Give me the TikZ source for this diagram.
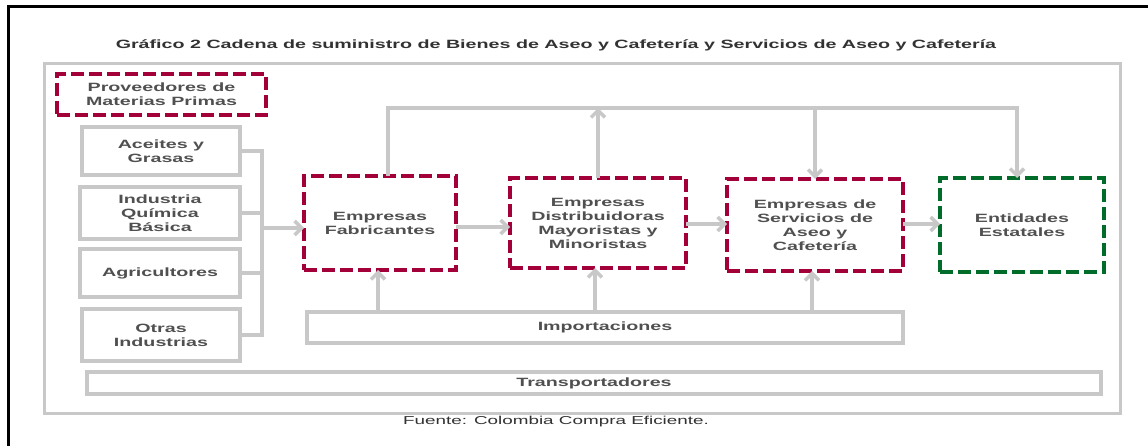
\documentclass[tikz,border=0pt]{standalone}
\usepackage{fontspec}
\setmainfont{Liberation Sans}[FakeStretch=1.64]
\usetikzlibrary{arrows.meta}
\definecolor{lgray}{RGB}{200,200,200}
\definecolor{crim}{RGB}{163,0,58}
\definecolor{dgreen}{RGB}{0,108,42}
\definecolor{txt}{RGB}{80,80,80}
\definecolor{ttl}{RGB}{50,50,50}
\tikzset{
  gl/.style={draw=lgray, line width=3.5pt},
  arr/.style={gl, -{Straight Barb[length=7pt,width=14pt]}},
  lab/.style={font=\bfseries\fontsize{12}{14}\selectfont, text=txt, align=center, inner sep=0pt, outer sep=0pt},
  graybox/.style={lab, draw=lgray, line width=3.5pt},
  redbox/.style={lab, draw=crim, line width=4pt, dash pattern=on 13pt off 5pt},
  greenbox/.style={lab, draw=dgreen, line width=4pt, dash pattern=on 13pt off 5pt},
}
\begin{document}
\begin{tikzpicture}[x=1pt,y=-1pt]
\useasboundingbox (0,0) rectangle (1148,446);
\fill[white] (0,0) rectangle (1148,446);
% black border
\draw[black, line width=3pt] (8,446) -- (8,7) -- (1148,7);
% title
\node[font=\bfseries\fontsize{12}{14}\selectfont, text=ttl] (title) at (556,45) {Gráfico 2 Cadena de suministro de Bienes de Aseo y Cafetería y Servicios de Aseo y Cafetería};
% outer frame
\node[draw=lgray, line width=3.5pt, minimum width=1076pt, minimum height=350pt, inner sep=0pt] (frame) at (582.5,238.5) {};
% left column
\node[redbox, minimum width=209pt, minimum height=41pt] (prov) at (161.5,94.5) {Proveedores de\\Materias Primas};
\node[graybox, minimum width=158pt, minimum height=48pt] (acei) at (161,151) {Aceites y\\Grasas};
\node[graybox, minimum width=160pt, minimum height=52pt] (ind) at (160,213) {Industria\\Química\\Básica};
\node[graybox, minimum width=160pt, minimum height=48pt] (agri) at (160,273) {Agricultores};
\node[graybox, minimum width=158pt, minimum height=52pt] (otras) at (161,335) {Otras\\Industrias};
% main chain
\node[redbox, minimum width=152pt, minimum height=94pt] (fab) at (380,223) {Empresas\\Fabricantes};
\node[redbox, minimum width=176pt, minimum height=90pt] (dist) at (598,223) {Empresas\\Distribuidoras\\Mayoristas y\\Minoristas};
\node[redbox, minimum width=176pt, minimum height=92pt] (serv) at (815,225) {Empresas de\\Servicios de\\Aseo y\\Cafetería};
\node[greenbox, minimum width=164pt, minimum height=94pt] (ent) at (1022,225) {Entidades\\Estatales};
% bottom bars
\node[graybox, minimum width=596pt, minimum height=31pt] (imp) at (605,327.5) {Importaciones};
\node[graybox, minimum width=1014pt, minimum height=22pt] (trans) at (594,383) {Transportadores};
% source
\node[font=\fontsize{11.5}{13}\selectfont, text=ttl] (src) at (556,422) {Fuente: Colombia Compra Eficiente.};
% bracket
\coordinate (bx) at (262,228);
\draw[gl] (acei.east) -- (acei.east -| bx) -- (otras.east -| bx) -- (otras.east);
\draw[gl] (ind.east) -- (ind.east -| bx);
\draw[gl] (agri.east) -- (agri.east -| bx);
\draw[arr] (bx) -- (bx -| fab.west);
% horizontal chain arrows
\draw[arr] ([yshift=-4pt]fab.east) -- ([yshift=-4pt]fab.east -| dist.west);
\draw[arr] ([yshift=-1pt]dist.east) -- ([yshift=-1pt]dist.east -| serv.west);
\draw[arr] ([yshift=1pt]serv.east) -- ([yshift=1pt]serv.east -| ent.west);
% top routing
\coordinate (tl) at (388,108);
\coordinate (tr) at (1017,108);
\draw[arr] (tl |- fab.north) -- (tl) -- (tr) -- (tr |- ent.north);
\draw[arr] (dist.north) -- (dist.north |- tl);
\draw[arr] (serv.north |- tl) -- (serv.north);
% importaciones arrows
\draw[arr] ([xshift=-2pt]fab.south |- imp.north) -- ([xshift=-2pt]fab.south);
\draw[arr] ([xshift=-3pt]dist.south |- imp.north) -- ([xshift=-3pt]dist.south);
\draw[arr] ([xshift=-3pt]serv.south |- imp.north) -- ([xshift=-3pt]serv.south);
\end{tikzpicture}
\end{document}
